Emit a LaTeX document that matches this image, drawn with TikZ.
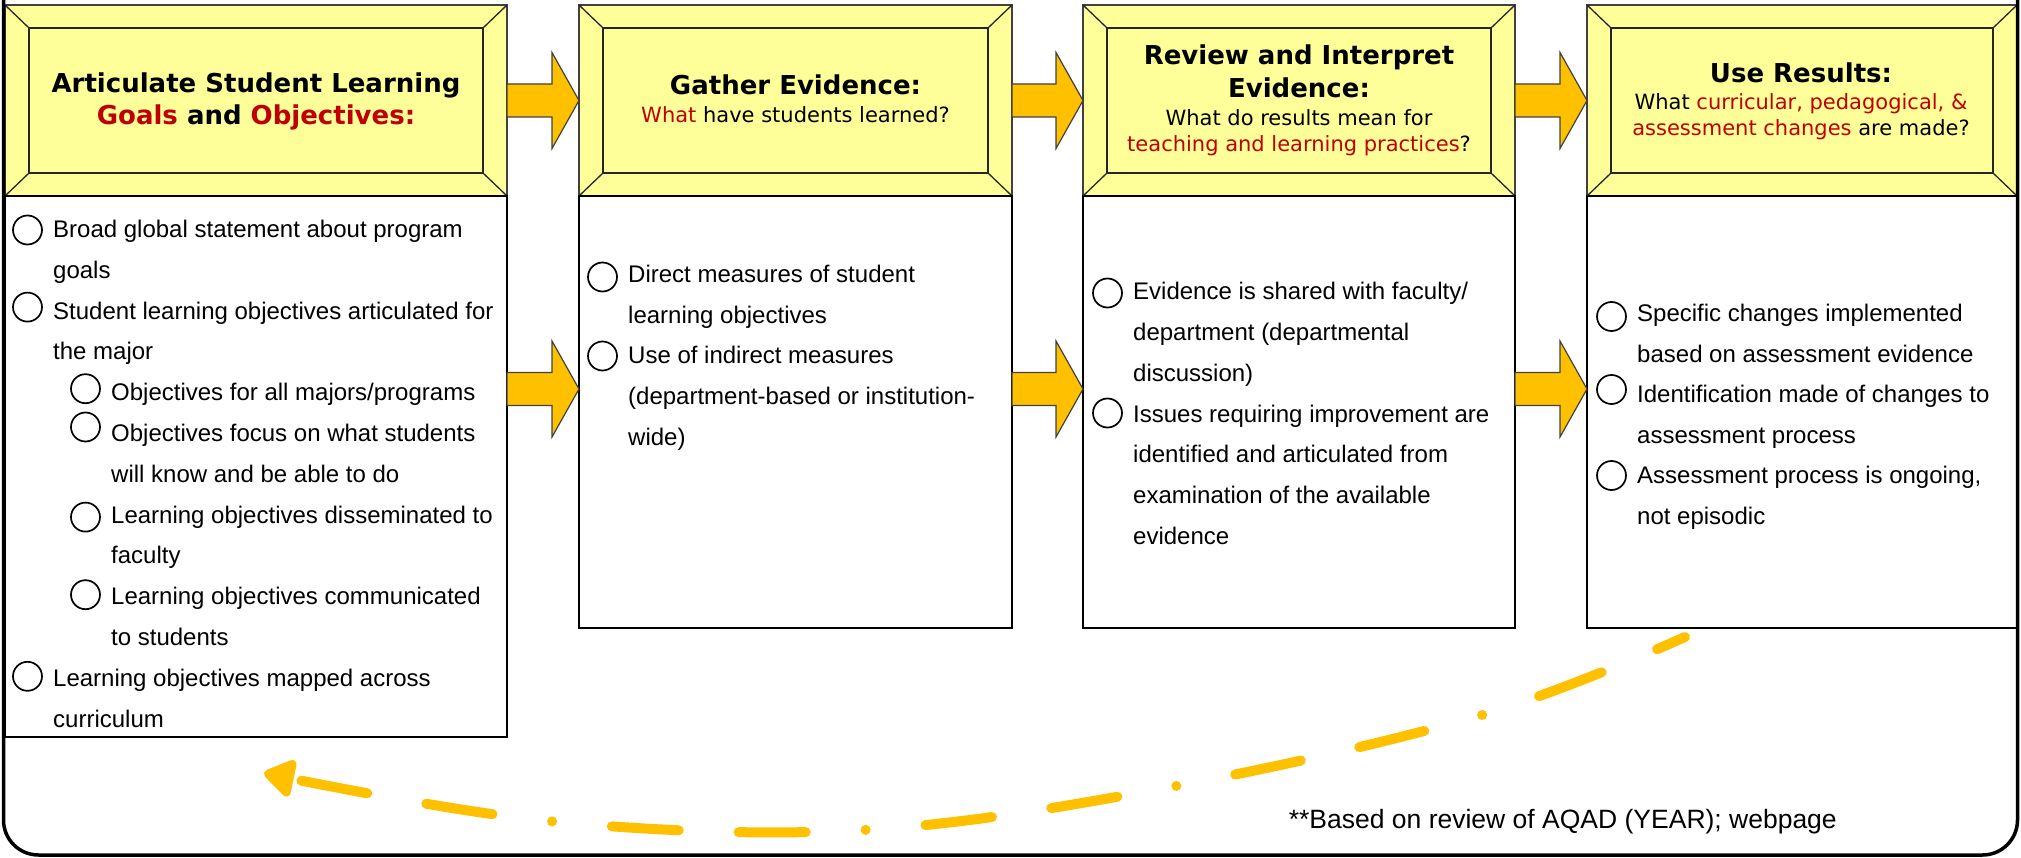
\documentclass[tikz,border=0pt]{standalone}
\usepackage{fontspec}
\setmainfont{Liberation Sans}
\newfontfamily\hdfamily{DejaVu Sans}
\usetikzlibrary{arrows.meta,calc}

\definecolor{padyellow}{HTML}{FFFF99}
\definecolor{flowarrow}{HTML}{FFC000}
\definecolor{keyred}{HTML}{C00000}
\definecolor{edgegray}{HTML}{404040}

\newcommand\hdtitle{\hdfamily\bfseries\fontsize{26}{32}\selectfont}
\newcommand\hdsub{\hdfamily\mdseries\fontsize{21}{26}\selectfont}
\newcommand\bodytext{\fontsize{24}{40.7}\selectfont}
\newcommand\redtext[1]{{\color{keyred}#1}}

% stacked lines whose reference point is the first baseline
\newcommand\leftlines[2]{\vtop{\baselineskip=#1pt\lineskiplimit=-100pt\lineskip=0pt
  \halign{##\hfil\cr#2\crcr}}}
\newcommand\centerlines[2]{\vtop{\baselineskip=#1pt\lineskiplimit=-100pt\lineskip=0pt
  \halign{\hfil##\hfil\cr#2\crcr}}}

\tikzset{
  hbox/.style={rectangle, draw=edgegray, line width=1.5pt, fill=padyellow,
    inner sep=0pt, outer sep=0pt, anchor=north west},
  cbox/.style={rectangle, draw=black, line width=1.8pt, fill=white,
    inner sep=0pt, outer sep=0pt, anchor=north west},
  bevelline/.style={draw=black!85, line width=1.3pt},
  bul/.style={circle, draw=black, line width=1.7pt, minimum size=29pt, inner sep=0pt},
  txt/.style={anchor=base west, inner sep=0pt, font=\bodytext},
  htxt/.style={anchor=base, inner sep=0pt, font=\hdtitle},
  blockarrow/.style={fill=flowarrow, draw=edgegray, line width=1.2pt, line join=miter},
  looparrow/.style={draw=flowarrow, line width=10pt, line cap=round,
    dash pattern=on 67pt off 60pt on 67pt off 60pt on 0pt off 60pt,
    dash phase=36.5pt,
    -{Triangle[length=34pt,width=42pt,round]}},
  frame/.style={draw=black, line width=3.5pt, rounded corners=35pt},
  note/.style={anchor=base east, inner sep=0pt, font=\fontsize{26.5}{30}\selectfont}
}

% bevelled header: inner panel and corner mitres
\newcommand\bevel[1]{%
  \draw[bevelline] ($(#1.north west)+(24,23)$) rectangle ($(#1.south east)+(-24,-23)$);
  \draw[bevelline] (#1.north west) -- ++(24,23) (#1.north east) -- ++(-24,23)
    (#1.south west) -- ++(24,-23) (#1.south east) -- ++(-24,-23);}

% broad flow arrow between two points at the same height
\newcommand\blockarrow[2]{%
  \draw[blockarrow] let \p1=(#1), \p2=(#2) in
    (\x1,{\y1+16.5pt}) -- ({\x2-27pt},{\y1+16.5pt}) -- ({\x2-27pt},{\y1+48pt})
    -- (\x2,\y1) -- ({\x2-27pt},{\y1-48pt}) -- ({\x2-27pt},{\y1-16.5pt})
    -- (\x1,{\y1-16.5pt}) -- cycle;}

% hollow bullet plus its text lines
\newcommand\bulletitem[5]{%
  \node[bul] (#1-dot) at ({#2-25.5},{#3-#4}) {};
  \node[txt] (#1) at (#2,#3) {\leftlines{40.7}{#5}};}

\begin{document}
\begin{tikzpicture}[x=1pt,y=-1pt]
\useasboundingbox (0,0) rectangle (2021,858);
\clip (0,0) rectangle (2021,858);

% headers
\node[hbox, minimum width=502, minimum height=191] (h1) at (5,5) {};
\node[hbox, minimum width=433, minimum height=191] (h2) at (579,5) {};
\node[hbox, minimum width=432, minimum height=191] (h3) at (1083,5) {};
\node[hbox, minimum width=430, minimum height=191] (h4) at (1587,5) {};
\bevel{h1}\bevel{h2}\bevel{h3}\bevel{h4}

% content panels
\node[cbox, minimum width=502, minimum height=541] (c1) at (5,196) {};
\node[cbox, minimum width=433, minimum height=432] (c2) at (579,196) {};
\node[cbox, minimum width=432, minimum height=432] (c3) at (1083,196) {};
\node[cbox, minimum width=430, minimum height=432] (c4) at (1587,196) {};

% flow arrows
\coordinate (lowrow) at (0,389);
\blockarrow{h1.east}{h2.west}
\blockarrow{h2.east}{h3.west}
\blockarrow{h3.east}{h4.west}
\blockarrow{c1.east |- lowrow}{c2.west |- lowrow}
\blockarrow{c2.east |- lowrow}{c3.west |- lowrow}
\blockarrow{c3.east |- lowrow}{c4.west |- lowrow}

% header texts
\node[htxt] (t1) at (256,93) {\centerlines{32}{Articulate Student Learning\cr
  \redtext{Goals} and \redtext{Objectives:}}};
\node[htxt] (t2) at (795.5,95) {\centerlines{28}{Gather Evidence:\cr
  \hdsub\redtext{What} have students learned?}};
\node[htxt] (t3) at (1299,65) {\centerlines{33}{Review and Interpret\cr
  Evidence:\cr\noalign{\vskip-5pt}\hdsub What do results mean for\cr
  \noalign{\vskip-7pt}\hdsub\redtext{teaching and learning practices}?}};
\node[htxt] (t4) at (1801,83) {\centerlines{27}{Use Results:\cr
  \hdsub What \redtext{curricular, pedagogical, \&}\cr
  \noalign{\vskip-1pt}\hdsub\redtext{assessment changes} are made?}};

% goals and objectives
\bulletitem{g1}{53}{237.5}{7.5}{Broad global statement about program\cr goals}
\bulletitem{g2}{53}{319.1}{12}{Student learning objectives articulated for\cr the major}
\bulletitem{g3}{111}{400.7}{12}{Objectives for all majors/programs}
\bulletitem{g4}{111}{441.5}{14.5}{Objectives focus on what students\cr will know and be able to do}
\bulletitem{g5}{111}{523.1}{6}{Learning objectives disseminated to\cr faculty}
\bulletitem{g6}{111}{604.7}{10}{Learning objectives communicated\cr to students}
\bulletitem{g7}{53}{686.3}{10}{Learning objectives mapped across\cr curriculum}

% evidence
\bulletitem{e1}{628}{283}{6}{Direct measures of student\cr learning objectives}
\bulletitem{e2}{628}{364}{8}{Use of indirect measures\cr (department-based or institution-\cr wide)}

% review
\bulletitem{r1}{1133}{300}{7}{Evidence is shared with faculty/\cr department (departmental\cr discussion)}
\bulletitem{r2}{1133}{422}{9}{Issues requiring improvement are\cr identified and articulated from\cr examination of the available\cr evidence}

% use of results
\bulletitem{u1}{1637}{321.5}{5}{Specific changes implemented\cr based on assessment evidence}
\bulletitem{u2}{1637}{402.5}{13}{Identification made of changes to\cr assessment process}
\bulletitem{u3}{1637}{483.5}{8}{Assessment process is ongoing,\cr not episodic}

% feedback loop back to the start
\coordinate (loopA) at (1685,637);
\coordinate (w1) at (1482,715);
\coordinate (w2) at (1176,786);
\coordinate (w3) at (863,830);
\coordinate (w4) at (548,821);
\coordinate (loopB) at (264,773);
\draw[looparrow] plot[smooth, tension=0.6] coordinates {(loopA) (w1) (w2) (w3) (w4) (loopB)};

\node[note] (src) at (1837,828) {**Based on review of AQAD (YEAR); webpage};

% outer frame
\draw[frame] (3.5,-60) -- (3.5,855) -- (2017.5,855) -- (2017.5,-60);
\end{tikzpicture}
\end{document}
